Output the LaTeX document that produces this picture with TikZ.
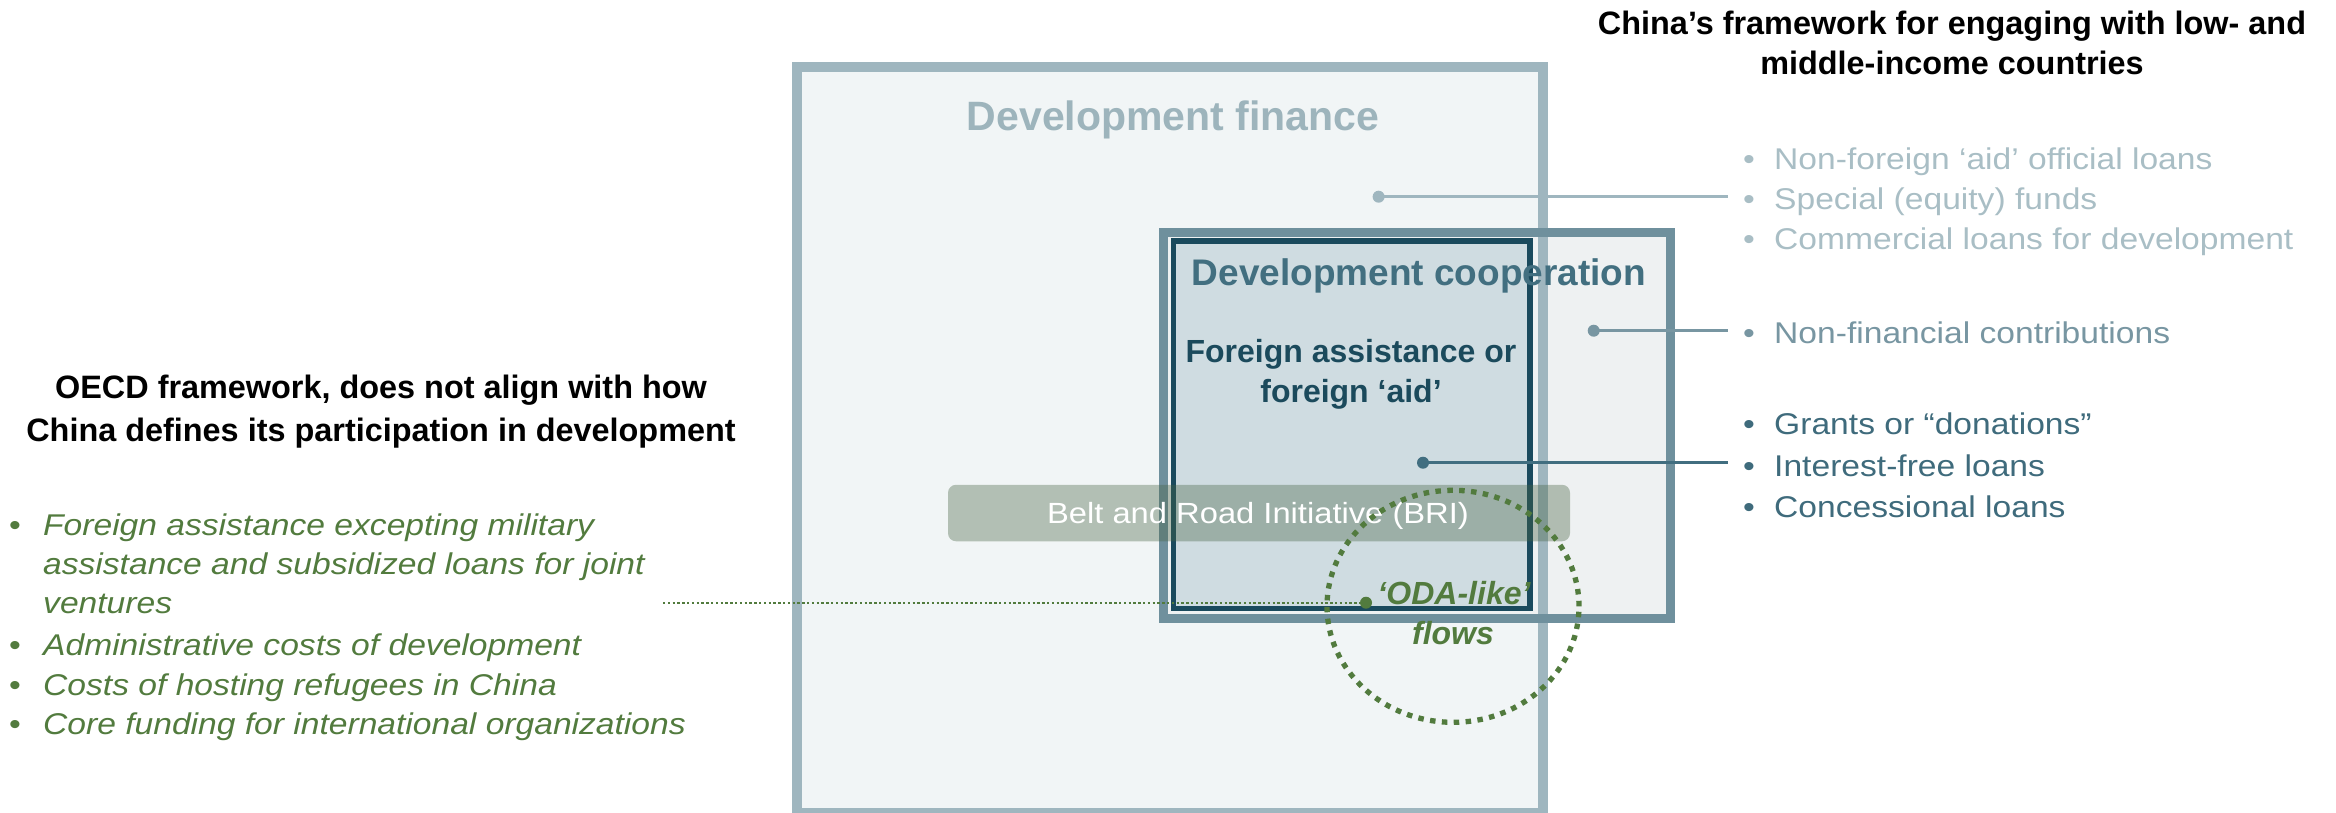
\documentclass[tikz,border=0pt]{standalone}
\usepackage{fontspec}
\setmainfont{Liberation Sans}
\newfontfamily\widefont[FakeStretch=1.12]{Liberation Sans}

\definecolor{finEdge}{HTML}{9FB6BF}
\definecolor{finFill}{HTML}{F1F5F6}
\definecolor{finText}{HTML}{9DB4BC}
\definecolor{finItem}{HTML}{A9BEC5}
\definecolor{coopEdge}{HTML}{6F909D}
\definecolor{coopFill}{HTML}{EEF1F2}
\definecolor{coopText}{HTML}{426F80}
\definecolor{coopItem}{HTML}{7896A2}
\definecolor{aidEdge}{HTML}{1A4A5D}
\definecolor{aidFill}{HTML}{CFDCE1}
\definecolor{aidText}{HTML}{1B4A5C}
\definecolor{aidItem}{HTML}{3F6B7C}
\definecolor{aidLine}{HTML}{416E80}
\definecolor{odaGreen}{HTML}{527B3E}
\definecolor{briShade}{HTML}{476344}

\tikzset{
  heading/.style={font=\bfseries\fontsize{32.4}{40}\selectfont, text=black, anchor=base, inner sep=0pt},
  boxtitle/.style={font=\bfseries\fontsize{#1}{40}\selectfont, anchor=base, inner sep=0pt},
  listtext/.style={font=\widefont\fontsize{30}{40}\selectfont, anchor=base west, inner sep=0pt},
  listdot/.style={font=\widefont\fontsize{30}{40}\selectfont, anchor=base, inner sep=0pt},
  oecdtext/.style={listtext, font=\widefont\itshape\fontsize{30}{40}\selectfont, text=odaGreen},
  oecddot/.style={listdot, text=odaGreen},
  leader/.style={line width=3pt},
  pin/.style={radius=6pt},
}

\begin{document}
\begin{tikzpicture}[x=1pt,y=-1pt]
\useasboundingbox (0,0) rectangle (2336,812);

% ---- nested frames: fills first, then edges ----
\fill[finFill] (797,67) rectangle (1543,813);
\fill[coopFill] (1163.5,232.5) rectangle (1670.5,618.2);
\fill[aidFill] (1173.5,241) rectangle (1529.8,608.7);
\draw[finEdge, line width=10pt] (797,67) rectangle (1543,813);
\draw[coopEdge, line width=9pt] (1163.5,232.5) rectangle (1670.5,618.2);
\draw[aidEdge, line width=5.5pt] (1173.5,241) rectangle (1529.8,608.7);

% ---- Belt and Road band ----
\node[fill=briShade, fill opacity=0.37, rounded corners=8pt, minimum width=622pt,
      minimum height=56.5pt, inner sep=0pt] (bri) at (1259,513) {};
\node[font=\widefont\fontsize{29.2}{36}\selectfont, text=white, anchor=base, inner sep=0pt]
      (briLabel) at (1258,523) {Belt and Road Initiative (BRI)};

% ---- frame titles ----
\node[boxtitle=41, text=finText] (finTitle) at (1173,130) {Development finance};
\node[boxtitle=37, text=coopText] (coopTitle) at (1419,285) {Development cooperation};
\node[boxtitle=32, text=aidText] (aidTitleA) at (1351,362) {Foreign assistance or};
\node[boxtitle=32, text=aidText] (aidTitleB) at (1351,402) {foreign ‘aid’};

% ---- headings ----
\node[heading] (chinaA) at (1952,34.5) {China’s framework for engaging with low- and};
\node[heading] (chinaB) at (1952,74) {middle-income countries};
\node[heading] (oecdA) at (381,398) {OECD framework, does not align with how};
\node[heading] (oecdB) at (381,441) {China defines its participation in development};

% ---- China's categories ----
\node[listdot, text=finItem] (finDotA) at (1749,169) {•};
\node[listtext, text=finItem] (finA) at (1774,169) {Non-foreign ‘aid’ official loans};
\node[listdot, text=finItem] (finDotB) at (1749,209) {•};
\node[listtext, text=finItem] (finB) at (1774,209) {Special (equity) funds};
\node[listdot, text=finItem] (finDotC) at (1749,249) {•};
\node[listtext, text=finItem] (finC) at (1774,249) {Commercial loans for development};

\node[listdot, text=coopItem] (coopDotA) at (1749,343) {•};
\node[listtext, text=coopItem] (coopA) at (1774,343) {Non-financial contributions};

\node[listdot, text=aidItem] (aidDotA) at (1749,434.5) {•};
\node[listtext, text=aidItem] (aidA) at (1774,434.5) {Grants or “donations”};
\node[listdot, text=aidItem] (aidDotB) at (1749,476) {•};
\node[listtext, text=aidItem] (aidB) at (1774,476) {Interest-free loans};
\node[listdot, text=aidItem] (aidDotC) at (1749,517) {•};
\node[listtext, text=aidItem] (aidC) at (1774,517) {Concessional loans};

% ---- OECD categories ----
\node[oecddot] (oDotA) at (15,535) {•};
\node[oecdtext] (oItemA) at (43,535) {Foreign assistance excepting military};
\node[oecdtext] (oItemB) at (43,574) {assistance and subsidized loans for joint};
\node[oecdtext] (oItemC) at (43,613) {ventures};
\node[oecddot] (oDotD) at (15,655) {•};
\node[oecdtext] (oItemD) at (43,655) {Administrative costs of development};
\node[oecddot] (oDotE) at (15,695) {•};
\node[oecdtext] (oItemE) at (43,695) {Costs of hosting refugees in China};
\node[oecddot] (oDotF) at (15,734) {•};
\node[oecdtext] (oItemF) at (43,734) {Core funding for international organizations};

% ---- leader lines from each frame to its list ----
\coordinate (pinFin) at (1378.6,196.7);
\coordinate (endFin) at (1728,196.7);
\coordinate (pinCoop) at (1593.7,330.7);
\coordinate (endCoop) at (1728,330.7);
\coordinate (pinAid) at (1423,462.7);
\coordinate (endAid) at (1728,462.7);
\draw[finEdge, leader] (pinFin) -- (endFin);
\fill[finEdge] (pinFin) circle[pin];
\draw[coopItem, leader] (pinCoop) -- (endCoop);
\fill[coopItem] (pinCoop) circle[pin];
\draw[aidLine, leader] (pinAid) -- (endAid);
\fill[aidLine] (pinAid) circle[pin];

% ---- ODA-like flows ----
\coordinate (odaCentre) at (1453,606.3);
\draw[odaGreen, line width=5.3pt, dash pattern=on 5.5pt off 6.4pt]
  (odaCentre) ellipse[x radius=126pt, y radius=116pt];
\node[boxtitle=32, font=\bfseries\itshape\fontsize{32}{40}\selectfont, text=odaGreen]
  (odaA) at (1454,604) {‘ODA-like’};
\node[boxtitle=32, font=\bfseries\itshape\fontsize{32}{40}\selectfont, text=odaGreen]
  (odaB) at (1453,644) {flows};
\coordinate (pinOda) at (1366,602.7);
\coordinate (startOda) at (663,602.7);
\draw[odaGreen, line width=2.4pt, dash pattern=on 2.4pt off 2.4pt] (startOda) -- (pinOda);
\fill[odaGreen] (pinOda) circle[pin];
\end{tikzpicture}
\end{document}
